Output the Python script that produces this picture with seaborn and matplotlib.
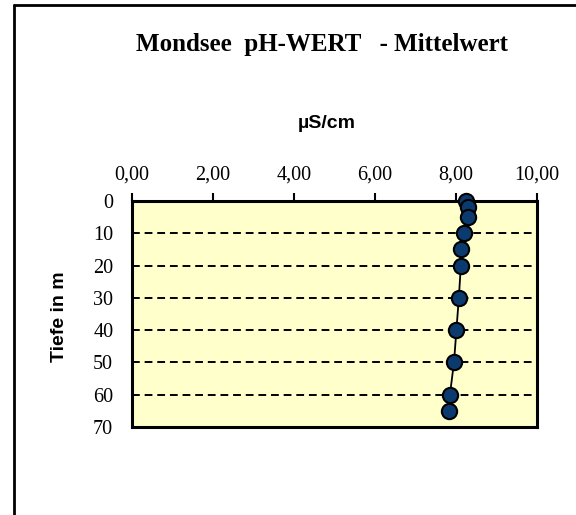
import matplotlib
matplotlib.use("Agg")
import matplotlib.pyplot as plt
import seaborn as sns
import pandas as pd
from matplotlib.lines import Line2D

depth = [0, 2, 5, 10, 15, 20, 30, 40, 50, 60, 65]
ph = [8.25, 8.30, 8.30, 8.19, 8.12, 8.12, 8.07, 8.01, 7.95, 7.85, 7.83]
x_ticks = [0, 2, 4, 6, 8, 10]
x_labels = ["0,00", "2,00", "4,00", "6,00", "8,00", "10,00"]
y_ticks = [0, 10, 20, 30, 40, 50, 60, 70]

title = "Mondsee  pH-WERT   - Mittelwert"
xlabel = "µS/cm"
ylabel = "Tiefe in m"

sns.set_style("white")
plt.rcParams["font.family"] = ["Liberation Serif", "DejaVu Serif"]
plt.rcParams["text.color"] = "black"
plt.rcParams["xtick.color"] = "black"
plt.rcParams["ytick.color"] = "black"

df = pd.DataFrame({"depth": depth, "ph": ph})

fig = plt.figure(figsize=(5.76, 5.15), dpi=100)
ax = fig.add_axes([132/576, 1-427/515, (537-132)/576, (427-201)/515])
ax.set_facecolor("#FFFFCC")

sns.lineplot(data=df, x="ph", y="depth", sort=False, estimator=None, ax=ax,
             color="black", linewidth=1.3, marker="o", markersize=11,
             markerfacecolor="#0A3A6E", markeredgecolor="black", markeredgewidth=1.5,
             zorder=5, clip_on=False)

ax.set_xlim(0, 10)
ax.set_ylim(70, 0)
ax.xaxis.tick_top()
ax.set_xticks(x_ticks)
ax.set_xticklabels(x_labels, fontsize=14.5, color="black")
ax.set_yticks(y_ticks)
ax.set_yticklabels([str(v) for v in y_ticks], fontsize=14.5, color="black")
ax.tick_params(axis="x", direction="out", length=6, width=1.5, pad=6, color="black")
ax.tick_params(axis="y", direction="inout", length=11, width=1.5, pad=8, color="black")
for v in y_ticks[1:-1]:
    ax.axhline(v, color="black", linestyle=(0, (4, 2.5)), linewidth=1.4, zorder=1)
for s in ax.spines.values():
    s.set_color("black")
    s.set_linewidth(2.2)
    s.set_visible(True)
ax.set_xlabel("")
ax.set_ylabel("")

fig.text(322/576, 1-44/515, title, ha="center", va="center", fontsize=18,
         fontweight="bold", color="black", family=["Liberation Serif", "DejaVu Serif"])
fig.text(327/576, 1-124/515, xlabel, ha="center", va="center", fontsize=14,
         fontweight="bold", color="black", family=["Liberation Sans", "DejaVu Sans"])
fig.text(60/576, 1-317/515, ylabel, ha="center", va="center", fontsize=14,
         fontweight="bold", rotation=90, color="black", family=["Liberation Sans", "DejaVu Sans"])

# outer frame
fig.add_artist(Line2D([14/576, 1.0], [1-5/515, 1-5/515], transform=fig.transFigure,
                      color="black", linewidth=2))
fig.add_artist(Line2D([14/576, 14/576], [1-5/515, 0.0], transform=fig.transFigure,
                      color="black", linewidth=2))

fig.savefig("out.png", dpi=100)
